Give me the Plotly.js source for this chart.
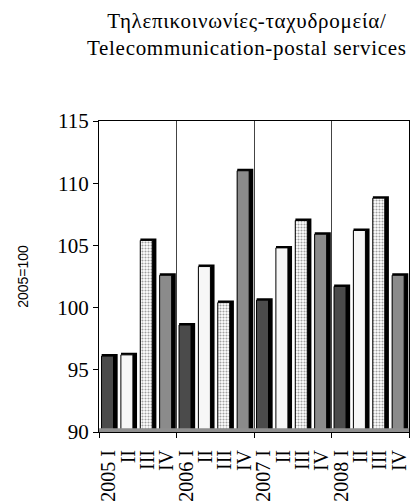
<!DOCTYPE html>
<html>
<head>
<meta charset="utf-8">
<script src="https://cdn.plot.ly/plotly-3.0.1.min.js"></script>
<style>
  html, body { margin: 0; padding: 0; background: #fff; }
  #chart { width: 410px; height: 503px; }
  .gtitle { letter-spacing: 0.7px; }
</style>
</head>
<body>
<div id="chart"></div>
<script>
// ---- data ----
const years = ['2005', '2006', '2007', '2008'];
const quarters = ['I', 'II', 'III', 'IV'];
const values = [96.1, 96.2, 105.4, 102.6, 98.6, 103.3, 100.4, 111.0, 100.6, 104.8, 107.0, 105.9, 101.7, 106.2, 108.8, 102.6];
const quarterColors = ['#4b4b4b', '#f7f7f7', '#ffffff', '#8b8b8b'];
const quarterPatterns = ['', '', '.', ''];
const yTicks = [90, 95, 100, 105, 110, 115];

// ---- derived ----
const xs = values.map((v, i) => i);
const tickText = values.map((v, i) => (i % 4 === 0 ? years[i / 4] + ' I' : quarters[i % 4]));
const barColors = values.map((v, i) => quarterColors[i % 4]);
const barPatterns = values.map((v, i) => quarterPatterns[i % 4]);
const yearBounds = years.map((y, i) => i * 4 - 0.5).concat([values.length - 0.5]);

const serif = 'Liberation Serif, serif';

const shadow = {
  type: 'bar', x: xs, y: values,
  width: 0.62, offset: -0.26,
  marker: { color: '#000', line: { color: '#000', width: 4 } },
  hoverinfo: 'skip', showlegend: false
};
const front = {
  type: 'bar', x: xs, y: values,
  width: 0.62, offset: -0.37,
  marker: {
    color: barColors,
    line: { color: '#000', width: 1 },
    pattern: { shape: barPatterns, fillmode: 'overlay', fgcolor: '#555555', size: 3, solidity: 0.4 }
  },
  hoverinfo: 'skip', showlegend: false
};

const layout = {
  width: 410, height: 503,
  margin: { l: 99, r: 1, t: 121, b: 71 },
  paper_bgcolor: '#fff', plot_bgcolor: '#fff',
  barmode: 'overlay',
  showlegend: false,
  title: {
    text: 'Τηλεπικοινωνίες-ταχυδρομεία/<br>Telecommunication-postal services',
    font: { family: serif, size: 21, color: '#000' },
    xref: 'container', x: 0.602, xanchor: 'center',
    yref: 'container', y: 0.944, yanchor: 'middle'
  },
  xaxis: {
    range: [-0.5, values.length - 0.5],
    tickmode: 'array', tickvals: xs, ticktext: tickText,
    tickangle: -90, ticks: '', ticklabelstandoff: 9,
    tickfont: { family: serif, size: 20, color: '#000' },
    showgrid: false, zeroline: false,
    showline: true, linecolor: '#000', linewidth: 1, mirror: true,
    minor: { tickmode: 'array', tickvals: yearBounds, ticks: 'outside', ticklen: 5, tickcolor: '#000',
             showgrid: true, gridcolor: '#444', gridwidth: 1 },
    fixedrange: true
  },
  yaxis: {
    range: [90, 115],
    tickmode: 'array', tickvals: yTicks,
    ticks: 'outside', ticklen: 5, tickcolor: '#000',
    tickfont: { family: serif, size: 21, color: '#000' },
    showgrid: false, zeroline: false,
    showline: true, linecolor: '#000', linewidth: 1, mirror: true,
    title: { text: '2005=100', font: { family: 'Liberation Sans, sans-serif', size: 14, color: '#000' }, standoff: 25 },
    fixedrange: true
  },
  shapes: [
    { type: 'rect', xref: 'paper', yref: 'paper', x0: 0, x1: 1, y0: 0, y1: 0.012,
      fillcolor: '#8f8f8f', line: { width: 0 }, layer: 'above' }
  ]
};

Plotly.newPlot('chart', [shadow, front], layout, { displayModeBar: false, staticPlot: true });
</script>
</body>
</html>
